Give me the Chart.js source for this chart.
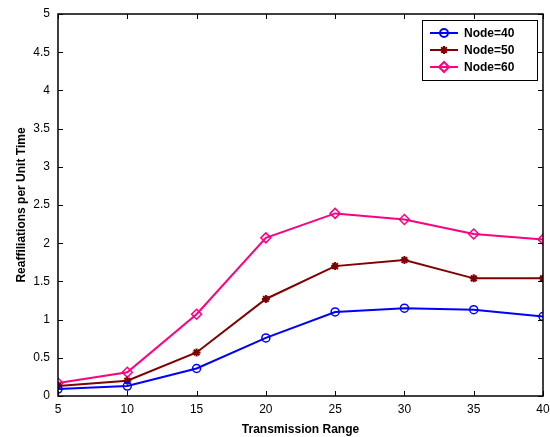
<!DOCTYPE html>
<html>
<head>
<meta charset="utf-8">
<script src="https://cdn.jsdelivr.net/npm/chart.js@4/dist/chart.umd.min.js"></script>
<style>
  html, body { margin: 0; padding: 0; background: #fff; }
  canvas { display: block; }
</style>
</head>
<body>
<canvas id="chart" width="550" height="437"></canvas>
<script>
const ranges = [5, 10, 15, 20, 25, 30, 35, 40];
const node40 = [0.09, 0.13, 0.36, 0.76, 1.10, 1.15, 1.13, 1.04];
const node50 = [0.13, 0.20, 0.57, 1.27, 1.70, 1.78, 1.54, 1.54];
const node60 = [0.17, 0.31, 1.07, 2.07, 2.39, 2.31, 2.12, 2.05];
const seriesNames = ['Node=40', 'Node=50', 'Node=60'];

const FONT = 'Liberation Sans, Arial, Helvetica, sans-serif';

const toPoints = (vals) => vals.map((v, i) => ({ x: ranges[i], y: v }));

// box, inward ticks on all four sides and the legend, matlab style
const boxPlugin = {
  id: 'box',
  afterDraw(chart) {
    const { ctx, chartArea: a, scales } = chart;
    ctx.save();
    ctx.strokeStyle = '#000';
    ctx.lineWidth = 1.5;
    ctx.strokeRect(a.left, a.top, a.right - a.left, a.bottom - a.top);
    ctx.lineWidth = 1;
    const tl = 5;
    ctx.beginPath();
    scales.x.ticks.forEach((t) => {
      const px = Math.round(scales.x.getPixelForValue(t.value)) + 0.5;
      ctx.moveTo(px, a.bottom); ctx.lineTo(px, a.bottom - tl);
      ctx.moveTo(px, a.top); ctx.lineTo(px, a.top + tl);
    });
    scales.y.ticks.forEach((t) => {
      const py = Math.round(scales.y.getPixelForValue(t.value)) + 0.5;
      ctx.moveTo(a.left, py); ctx.lineTo(a.left + tl, py);
      ctx.moveTo(a.right, py); ctx.lineTo(a.right - tl, py);
    });
    ctx.stroke();

    // legend
    const lx = 422, ly = 20, lw = 115, lh = 60;
    ctx.fillStyle = '#fff';
    ctx.fillRect(lx, ly, lw, lh);
    ctx.strokeStyle = '#000';
    ctx.lineWidth = 1;
    ctx.strokeRect(lx + 0.5, ly + 0.5, lw, lh);
    ctx.font = 'bold 12px ' + FONT;
    ctx.textBaseline = 'middle';
    chart.data.datasets.forEach((ds, i) => {
      const y = ly + 13 + i * 17;
      ctx.strokeStyle = ds.borderColor;
      ctx.lineWidth = 2;
      ctx.beginPath();
      ctx.moveTo(lx + 8, y); ctx.lineTo(lx + 36, y);
      ctx.stroke();
      ctx.fillStyle = ds.pointBackgroundColor;
      ctx.strokeStyle = ds.pointBorderColor;
      Chart.helpers.drawPoint(ctx, {
        pointStyle: ds.pointStyle,
        radius: ds.pointRadius,
        borderWidth: ds.pointBorderWidth || 1.5,
        rotation: 0
      }, lx + 22, y);
      ctx.fillStyle = '#000';
      ctx.fillText(ds.label, lx + 42, y + 1);
    });
    ctx.restore();
  }
};

const whiteBg = {
  id: 'whiteBg',
  beforeDraw(chart) {
    const { ctx, width, height } = chart;
    ctx.save();
    ctx.fillStyle = '#fff';
    ctx.fillRect(0, 0, width, height);
    ctx.restore();
  }
};

new Chart(document.getElementById('chart'), {
  type: 'line',
  data: {
    datasets: [
      {
        label: seriesNames[0],
        data: toPoints(node40),
        borderColor: 'rgb(0, 0, 255)',
        backgroundColor: 'rgba(0,0,0,0)',
        pointBorderColor: 'rgb(0, 0, 255)',
        pointBackgroundColor: 'rgba(0,0,0,0)',
        pointStyle: 'circle',
        pointRadius: 4,
        pointBorderWidth: 1.5,
        borderWidth: 2
      },
      {
        label: seriesNames[1],
        data: toPoints(node50),
        borderColor: 'rgb(128, 0, 0)',
        backgroundColor: 'rgb(128, 0, 0)',
        pointBorderColor: 'rgb(128, 0, 0)',
        pointBackgroundColor: 'rgb(128, 0, 0)',
        pointStyle: 'star',
        pointRadius: 4,
        pointBorderWidth: 2,
        borderWidth: 2
      },
      {
        label: seriesNames[2],
        data: toPoints(node60),
        borderColor: 'rgb(255, 0, 128)',
        backgroundColor: 'rgba(0,0,0,0)',
        pointBorderColor: 'rgb(255, 0, 128)',
        pointBackgroundColor: 'rgba(0,0,0,0)',
        pointStyle: 'rectRot',
        pointRadius: 5,
        pointBorderWidth: 1.5,
        borderWidth: 2
      }
    ]
  },
  options: {
    responsive: false,
    animation: false,
    layout: { padding: { top: 14, right: 7, left: 0, bottom: 0 } },
    plugins: { legend: { display: false }, tooltip: { enabled: false } },
    scales: {
      x: {
        type: 'linear',
        min: 5,
        max: 40,
        grid: { display: false, drawTicks: false },
        border: { display: false },
        ticks: {
          stepSize: 5,
          padding: 6,
          color: '#000',
          font: { family: FONT, size: 12 },
          maxRotation: 0
        },
        title: {
          display: true,
          text: 'Transmission Range',
          color: '#000',
          font: { family: FONT, size: 12, weight: 'bold' },
          padding: { top: 2, bottom: 0 }
        },
        afterFit(scale) {
          scale.height = 41;
          scale.paddingLeft = 0;
          scale.paddingRight = 0;
        }
      },
      y: {
        min: 0,
        max: 5,
        grid: { display: false, drawTicks: false },
        border: { display: false },
        ticks: {
          stepSize: 0.5,
          padding: 8,
          color: '#000',
          font: { family: FONT, size: 12 },
          callback: (v) => String(v)
        },
        title: {
          display: true,
          text: 'Reaffiliations per Unit Time',
          color: '#000',
          font: { family: FONT, size: 12, weight: 'bold' },
          padding: { top: 14, bottom: 0 }
        },
        afterFit(scale) {
          scale.width = 58;
          scale.paddingTop = 0;
          scale.paddingBottom = 0;
        }
      }
    }
  },
  plugins: [whiteBg, boxPlugin]
});
</script>
</body>
</html>
